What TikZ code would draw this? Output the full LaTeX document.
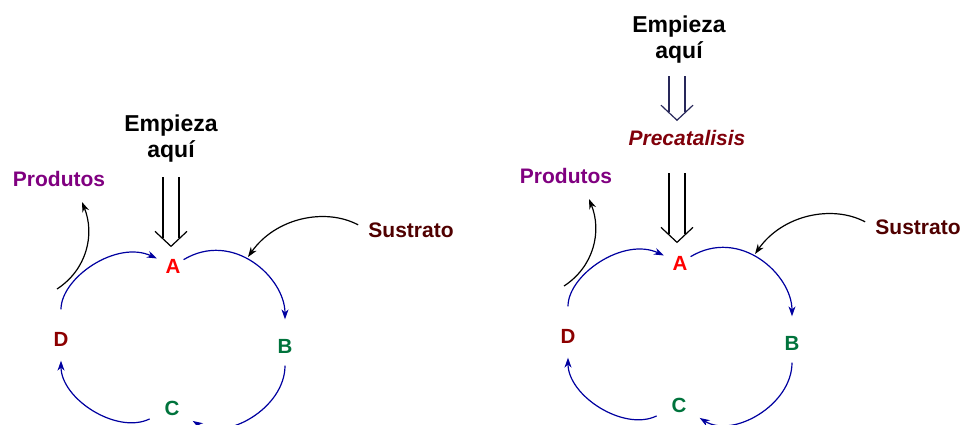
\documentclass[tikz,border=0pt]{standalone}
\usepackage{fontspec}
\setmainfont{Liberation Sans}
\usepackage{xcolor}
\definecolor{azul}{RGB}{0, 0, 160}
\definecolor{roxo}{RGB}{128, 0, 128}
\definecolor{vinho}{RGB}{80, 0, 0}
\definecolor{grena}{RGB}{140, 0, 0}
\definecolor{granada}{RGB}{128, 0, 10}
\definecolor{verde}{RGB}{0, 115, 60}
\definecolor{escuro}{RGB}{40, 40, 90}
\usetikzlibrary{arrows.meta}

\tikzset{
  pics/duplaseta/.style={code={
    \draw (-8,-8) --++ (0,-#1) (8,-8) --++ (0,-#1);
    \draw (-16,-15) -- (0,0) -- (16,-15);}}
}

\begin{document}
\begin{tikzpicture}[x=1pt, y=-1pt, line width=1.2pt, > = {Stealth[length=10pt, width=7pt]},
  etapa/.style={inner sep=0pt, font=\fontsize{20.5}{22}\selectfont\bfseries},
  rotulo/.style={inner sep=0pt, font=\fontsize{21}{24}\selectfont\bfseries},
  inicio/.style={inner sep=0pt, align=center, font=\fontsize{23}{26}\selectfont\bfseries},
  ciclo/.style={->, draw=azul},
  reacao/.style={-{Stealth[length=10pt, width=7pt]}}]
	\useasboundingbox (0,0) rectangle (962,424);
	
	% sem precatalisis
	\node [inicio] (empL) at (171,139) {Empieza\\aquí};
	\node [etapa, red] (AL) at (173,266) {A};
	\node [etapa, verde] (BL) at (285,346) {B};
	\node [etapa, verde] (CL) at (172,408) {C};
	\node [etapa, grena] (DL) at (61,339) {D};
	\node [rotulo, vinho] (susL) at (411,230) {Sustrato};
	\node [rotulo, roxo] (prodL) at (59,179) {Produtos};
	\coordinate (sL) at (248,257);
	\coordinate (pL0) at (57,289);
	\coordinate (pL1) at (82,202);
	
	\pic at ([shift={(-2,-12)}]AL.north) {duplaseta=61};
	
	\draw [ciclo, shorten <=22pt, shorten >=9pt] (DL) to[out=90, in=155, looseness=1.1] (AL);
	\draw [ciclo, shorten <=3pt, shorten >=19pt] (AL) to[out=31, in=90, looseness=1.2] (BL);
	\draw [ciclo, shorten <=12pt, shorten >=15pt] (BL) to[out=-90, in=-32, looseness=1.15] (CL);
	\draw [ciclo, shorten <=16pt, shorten >=14pt] (CL) to[out=206, in=-90, looseness=1.1] (DL);
	\draw [reacao, shorten <=11pt] (susL.west) to[out=152, in=55] (sL);
	\draw [reacao] (pL0) to[out=33, in=-68] (pL1);
	
	% com precatalisis
	\node [inicio] (empR) at (679,40) {Empieza\\aquí};
	\node [rotulo, granada, font=\fontsize{21}{24}\selectfont\bfseries\itshape] (preR) at (687,137.5) {Precatalisis};
	\pic [color=escuro] at ([shift={(-10,-9)}]preR.north) {duplaseta=36};
	
	\begin{scope}[shift={(507,-3)}]
		\node [etapa, red] (AR) at (173,266) {A};
		\node [etapa, verde] (BR) at (285,346) {B};
		\node [etapa, verde] (CR) at (172,408) {C};
		\node [etapa, grena] (DR) at (61,339) {D};
		\node [rotulo, vinho] (susR) at (411,230) {Sustrato};
		\node [rotulo, roxo] (prodR) at (59,179) {Produtos};
		\coordinate (sR) at (248,257);
		\coordinate (pR0) at (57,289);
		\coordinate (pR1) at (82,202);
		
		\draw [ciclo, shorten <=22pt, shorten >=9pt] (DR) to[out=90, in=155, looseness=1.1] (AR);
		\draw [ciclo, shorten <=3pt, shorten >=19pt] (AR) to[out=31, in=90, looseness=1.2] (BR);
		\draw [ciclo, shorten <=12pt, shorten >=15pt] (BR) to[out=-90, in=-32, looseness=1.15] (CR);
		\draw [ciclo, shorten <=16pt, shorten >=14pt] (CR) to[out=206, in=-90, looseness=1.1] (DR);
		\draw [reacao, shorten <=11pt] (susR.west) to[out=152, in=55] (sR);
		\draw [reacao] (pR0) to[out=33, in=-68] (pR1);
	\end{scope}
	
	\pic at ([shift={(-3,-13)}]AR.north) {duplaseta=61};
\end{tikzpicture}
\end{document}
